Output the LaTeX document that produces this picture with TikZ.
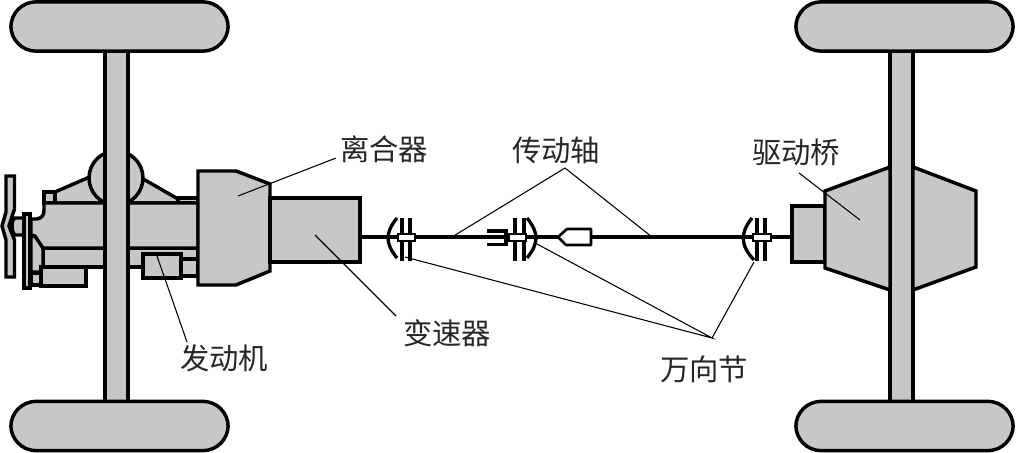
\documentclass[tikz,border=0pt]{standalone}
\usepackage{fontspec}
\setmainfont{Noto Sans CJK SC}
\definecolor{partgray}{gray}{0.78}
\tikzset{
  part/.style={draw=black,fill=partgray,line width=2.6pt,line join=miter},
  wheelbox/.style={draw=black,fill=partgray,line width=2.6pt,rounded corners=19pt,minimum width=163pt,minimum height=37pt,inner sep=0pt},
  shaftline/.style={draw=black,line width=2.3pt},
  thickline/.style={draw=black,line width=2.5pt},
  whitepin/.style={draw=black,fill=white,line width=2pt},
  leader/.style={draw=black,line width=0.8pt},
  lab/.style={font=\fontsize{22pt}{24pt}\selectfont,inner sep=0pt,text=black!85}
}
\begin{document}
\begin{tikzpicture}[x=0.75pt,y=-0.75pt]
\useasboundingbox (0,0) rectangle (1017,453);
% engine
\draw[part] (100,172.5) -- (55,192) -- (55,203) -- (100,203) -- cycle;
\draw[part] (132,172.5) -- (178,199) -- (178,203) -- (132,203) -- cycle;
\draw[part] (116,178) circle (20.25pt);
\draw[part] (44,192) rectangle (55,203);
\draw[part] (178,198) rectangle (198,203);
\draw[part] (43,248) rectangle (198,267);
\draw[part] (31,237) -- (35,236) -- (43,246) -- (43,272) -- (31,272) -- cycle;
\draw[part] (44,203) -- (198,203) -- (198,248) -- (43,248) -- (35,236) -- (31,235) -- (31,219) -- (37,219) .. controls (42,218) and (44,215) .. (44,210) -- cycle;
\draw[part] (31,273) rectangle (41,285);
\draw[part] (41,267) rectangle (86,286);
\draw[part] (24,218) -- (15,218) .. controls (11,220) and (11,232) .. (15,235) -- (24,235);
\draw[part] (24,214) rectangle (30,288);
\draw[part] (6,176) -- (14.5,176) -- (14.5,209) -- (9,226) -- (14.5,240) -- (14.5,277) -- (6,277) -- (6,240) -- (2,226) -- (6,212) -- cycle;
\draw[part] (143,254) rectangle (181,278);
\draw[part] (181,259) rectangle (198,276);
% axles
\draw[part] (105,40) rectangle (128,410);
\draw[part] (890,40) rectangle (913,410);
% wheels
\node[wheelbox] (wfu) at (119.5,26.5) {};
\node[wheelbox] (wfd) at (119.5,426) {};
\node[wheelbox] (wru) at (904.5,26.5) {};
\node[wheelbox] (wrd) at (904.5,426) {};
% clutch and gearbox
\draw[part] (198,171) -- (236,171) -- (270,184) -- (270,271) -- (236,285) -- (198,285) -- cycle;
\draw[part] (270,198) rectangle (360,262);
% rear axle housing
\draw[part] (792,206) rectangle (825,262);
\draw[part] (825,191) -- (890,167) -- (890,290) -- (825,268) -- cycle;
\draw[part] (913,167) -- (976,191) -- (976,267) -- (913,290) -- cycle;
% shaft
\coordinate (s0) at (360,237);
\coordinate (s4) at (792,237);
\draw[shaftline] (s0) -- (s4);
% first joint
\draw[thickline] (397,218) .. controls (385,233) and (385,243) .. (397,258);
\draw[thickline] (402,218) -- (402,261) (410,218) -- (410,261);
\draw[whitepin] (398,234) rectangle (415,241);
% second joint
\draw[thickline] (487,231) -- (506,231) -- (506,244.5) -- (487,244.5);
\draw[thickline] (515,218) -- (515,261) (524,218) -- (524,261);
\draw[whitepin] (509,234) rectangle (526,241);
\draw[thickline] (527,218) .. controls (539,233) and (539,243) .. (527,258);
\draw[whitepin,line join=round] (591,229) -- (567,229) -- (558,237) -- (566,245) -- (591,245) -- cycle;
% third joint
\draw[thickline] (752,218) .. controls (740,233) and (740,245) .. (754,260);
\draw[thickline] (757,218) -- (757,261) (765,218) -- (765,261);
\draw[whitepin] (753,234) rectangle (771,241);
% labels
\node[lab] (lihe) at (384,149) {离合器};
\node[lab] (chuan) at (556,150) {传动轴};
\node[lab] (qu) at (796,152) {驱动桥};
\node[lab] (bian) at (447,333) {变速器};
\node[lab] (fa) at (224,358) {发动机};
\node[lab] (wan) at (704,369) {万向节};
% leaders
\coordinate (c1) at (238,196);
\coordinate (c2) at (315,235);
\coordinate (c3) at (157,256);
\coordinate (c4) at (452,237);
\coordinate (c5) at (652,237);
\coordinate (c6) at (860,220);
\coordinate (c7) at (405,257);
\coordinate (c8) at (537,244);
\coordinate (c9) at (754,262);
\coordinate (h1) at (565,168);
\coordinate (h2) at (712,338);
\draw[leader] (336,158) -- (c1);
\draw[leader] (396,316) -- (c2);
\draw[leader] (187,342) -- (c3);
\draw[leader] (c4) -- (h1) -- (c5);
\draw[leader] (799,173) -- (c6);
\draw[leader] (c7) -- (h2) -- (c8);
\draw[leader] (h2) -- (c9);
\end{tikzpicture}
\end{document}
